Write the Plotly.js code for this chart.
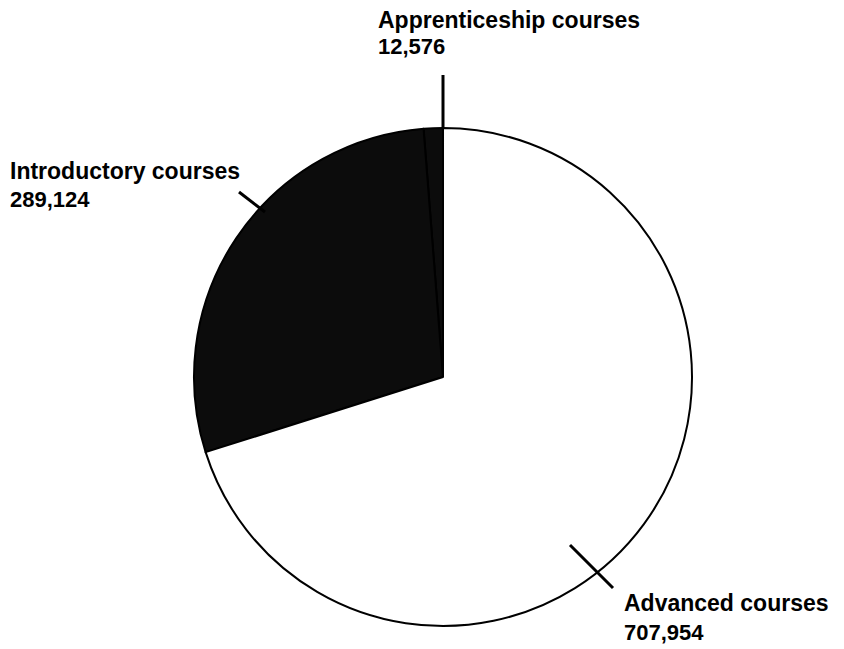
<!DOCTYPE html>
<html>
<head>
<meta charset="utf-8">
<script src="https://cdn.plot.ly/plotly-3.0.1.min.js"></script>
<style>html,body{margin:0;padding:0;background:#fff;}#chart{width:844px;height:649px;}</style>
</head>
<body>
<div id="chart"></div>
<script>
var categories = ["Apprenticeship courses", "Introductory courses", "Advanced courses"];
var values = [12576, 289124, 707954];
var valueLabels = ["12,576", "289,124", "707,954"];
var sliceColors = ["#0c0c0c", "#0c0c0c", "#ffffff"];

var W = 844, H = 649;
function px(x) { return x / W; }
function py(y) { return 1 - y / H; }

var cx = 443, cy = 377, r = 249;

var trace = {
  type: "pie",
  labels: categories,
  values: values,
  sort: false,
  direction: "counterclockwise",
  rotation: -4.48,
  textinfo: "none",
  hoverinfo: "label+value",
  marker: { colors: sliceColors, line: { color: "#000000", width: 2 } },
  domain: { x: [px(cx - r), px(cx + r)], y: [py(cy + r), py(cy - r)] },
  showlegend: false
};

var labelPos = [
  { x: 376, y1: 20, y2: 46 },
  { x: 8, y1: 171, y2: 199 },
  { x: 622, y1: 603, y2: 632 }
];
var annotations = [];
for (var i = 0; i < categories.length; i++) {
  annotations.push({
    xref: "paper", yref: "paper", x: px(labelPos[i].x), y: py(labelPos[i].y1),
    xanchor: "left", yanchor: "middle", showarrow: false,
    text: "<b>" + categories[i] + "</b>",
    font: { family: "Liberation Sans, Arial, sans-serif", size: 23, color: "#000" }
  });
  annotations.push({
    xref: "paper", yref: "paper", x: px(labelPos[i].x), y: py(labelPos[i].y2),
    xanchor: "left", yanchor: "middle", showarrow: false,
    text: "<b>" + valueLabels[i] + "</b>",
    font: { family: "Liberation Sans, Arial, sans-serif", size: 22, color: "#000" }
  });
}

var leaders = [
  [443, 75, 443, 128],
  [239, 192, 265, 212],
  [570, 545, 613, 588]
];
var shapes = leaders.map(function (l) {
  return { type: "line", xref: "paper", yref: "paper",
    x0: px(l[0]), y0: py(l[1]), x1: px(l[2]), y1: py(l[3]),
    line: { color: "#000", width: 3 } };
});

var layout = {
  width: W, height: H,
  margin: { l: 0, r: 0, t: 0, b: 0 },
  paper_bgcolor: "#ffffff",
  annotations: annotations,
  shapes: shapes
};

Plotly.newPlot("chart", [trace], layout, { displayModeBar: false, staticPlot: true });
</script>
</body>
</html>
